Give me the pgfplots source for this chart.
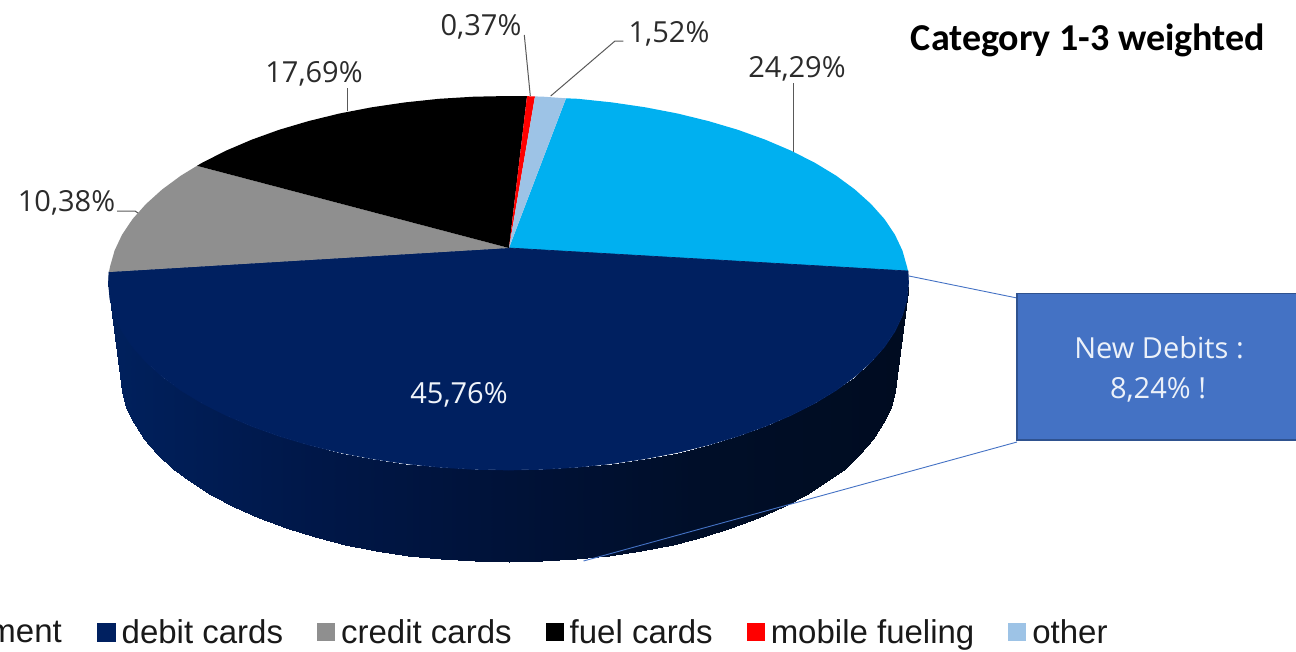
\documentclass[border=0pt]{standalone}
\usepackage{fontspec}
\setmainfont{Open Sans}
\newfontfamily\legendfont{Liberation Sans}
\newfontfamily\titlefont{Carlito}
\usepackage{pgfplots}
\pgfplotsset{compat=1.18}

\definecolor{debit}{HTML}{002060}
\definecolor{credit}{HTML}{8F8F8F}
\definecolor{fuel}{HTML}{000000}
\definecolor{mobile}{HTML}{FF0000}
\definecolor{other}{HTML}{9DC3E6}
\definecolor{payment}{HTML}{00B0F0}
\definecolor{boxblue}{HTML}{4472C4}
\definecolor{boxedge}{HTML}{2F528F}
\definecolor{leader}{HTML}{595959}
\definecolor{labeltext}{HTML}{2B2B2B}

\begin{document}
\begin{tikzpicture}
\useasboundingbox (0,0) rectangle (1296pt,651pt);
\clip (0,0) rectangle (1296pt,651pt);
\begin{axis}[
  scale only axis,
  width=1296pt, height=651pt,
  xmin=0, xmax=1296, ymin=0, ymax=651,
  y dir=reverse,
  hide axis,
  clip=false,
  colormap={side}{rgb255=(0,32,92) rgb255=(0,23,72) rgb255=(0,18,56) rgb255=(0,14,40) rgb255=(0,12,33)},
  point meta min=120, point meta max=900,
  legend columns=5,
  legend cell align=left,
  legend style={
    draw=none, fill=none, inner sep=0pt, outer sep=0pt,
    at={(axis cs:97,632)}, anchor=west,
    font=\fontsize{33}{33}\selectfont\legendfont\color{black!90},
    /tikz/every even column/.append style={column sep=34pt},
    /tikz/every odd column/.append style={column sep=6pt},
    nodes={inner sep=0pt},
  },
  legend image code/.code={\fill[#1] (0pt,-9pt) rectangle (18pt,9pt);},
]

% side of the pie
\addplot[surf, shader=interp, mesh/rows=2, point meta=x, forget plot] table[row sep=crcr] {
108.5 283\\110 299.3\\114.6 315.5\\122.1 331.4\\132.6 347\\146 362\\162.1 376.5\\180.8 390.3\\202.1 403.2\\225.7 415.2\\251.4 426.2\\279.1 436.2\\308.5 444.9\\339.5 452.5\\371.7 458.7\\405 463.6\\439.1 467.2\\473.6 469.3\\508.5 470\\543.4 469.3\\577.9 467.2\\612 463.6\\645.3 458.7\\677.5 452.5\\708.5 444.9\\737.9 436.2\\765.6 426.2\\791.3 415.2\\814.9 403.2\\836.2 390.3\\854.9 376.5\\871 362\\884.4 347\\894.9 331.4\\902.4 315.5\\907 299.3\\908.5 283\\
120.5 375\\122 391.3\\126.4 407.5\\133.7 423.4\\143.9 439\\156.9 454\\172.5 468.5\\190.7 482.3\\211.3 495.2\\234.1 507.2\\259.1 518.2\\285.9 528.2\\314.5 536.9\\344.5 544.5\\375.8 550.7\\408.1 555.6\\441.1 559.2\\474.7 561.3\\508.5 562\\542.3 561.3\\575.9 559.2\\608.9 555.6\\641.2 550.7\\672.5 544.5\\702.5 536.9\\731.1 528.2\\757.9 518.2\\782.9 507.2\\805.7 495.2\\826.3 482.3\\844.5 468.5\\860.1 454\\873.1 439\\883.3 423.4\\890.6 407.5\\895 391.3\\896.5 375\\
};

% top of the pie, one outline per slice
\addplot[fill=payment, draw=none, forget plot] coordinates {
(509,248) (908,271) (907,266.7) (902.4,250.5) (894.9,234.6) (884.4,219) (871,204) (854.9,189.5) (836.2,175.7) (814.9,162.8) (791.3,150.8) (765.6,139.8) (737.9,129.8) (708.5,121.1) (677.5,113.5) (645.3,107.3) (612,102.4) (577.9,98.8) (566,98.3)
} -- cycle;

\addplot[fill=debit, draw=debit, line width=0.7pt] coordinates {
(509,248) (109,272) (108.5,283) (110,299.3) (114.6,315.5) (122.1,331.4) (132.6,347) (146,362) (162.1,376.5) (180.8,390.3) (202.1,403.2) (225.7,415.2) (251.4,426.2) (279.1,436.2) (308.5,444.9) (339.5,452.5) (371.7,458.7) (405,463.6) (439.1,467.2) (473.6,469.3) (508.5,470) (543.4,469.3) (577.9,467.2) (612,463.6) (645.3,458.7) (677.5,452.5) (708.5,444.9) (737.9,436.2) (765.6,426.2) (791.3,415.2) (814.9,403.2) (836.2,390.3) (854.9,376.5) (871,362) (884.4,347) (894.9,331.4) (902.4,315.5) (907,299.3) (908.5,283) (908,271)
} -- cycle;
\addlegendentry{debit cards}

\addplot[fill=credit, draw=none] coordinates {
(509,248) (197,165.8) (180.8,175.7) (162.1,189.5) (146,204) (132.6,219) (122.1,234.6) (114.6,250.5) (110,266.7) (109,272)
} -- cycle;
\addlegendentry{credit cards}

\addplot[fill=fuel, draw=none] coordinates {
(509,248) (527,96.2) (508.5,96) (473.6,96.7) (439.1,98.8) (405,102.4) (371.7,107.3) (339.5,113.5) (308.5,121.1) (279.1,129.8) (251.4,139.8) (225.7,150.8) (202.1,162.8) (197,165.8)
} -- cycle;
\addlegendentry{fuel cards}

\addplot[fill=mobile, draw=none] coordinates {
(509,248) (535,96.4) (527,96.2)
} -- cycle;
\addlegendentry{mobile fueling}

\addplot[fill=other, draw=none] coordinates {
(509,248) (566,98.3) (543.4,96.7) (535,96.4)
} -- cycle;
\addlegendentry{other}

% leader lines
\addplot[leader, line width=1pt, forget plot] coordinates {(524.3,35) (530.3,96)};
\addplot[leader, line width=1pt, forget plot] coordinates {(623.3,41) (615,41) (550.7,96)};
\addplot[leader, line width=1pt, forget plot] coordinates {(793,83) (793,152)};
\addplot[leader, line width=1pt, forget plot] coordinates {(347,88) (347,111)};
\addplot[leader, line width=1pt, forget plot] coordinates {(117,211) (135,211) (138,213)};

% callout
\addplot[boxblue, line width=0.9pt, forget plot] coordinates {(909,276) (1017,298)};
\addplot[boxblue, line width=0.9pt, forget plot] coordinates {(583.5,561) (1017,442)};
\addplot[fill=boxblue, draw=boxedge, line width=1.4pt, forget plot] coordinates {(1017,293.5) (1310,293.5) (1310,440) (1017,440)} -- cycle;

% labels
\node[font=\fontsize{29}{29}\selectfont, text=labeltext, inner sep=0pt] at (axis cs:66.5,202.5) {10,38\%};
\node[font=\fontsize{29}{29}\selectfont, text=labeltext, inner sep=0pt] at (axis cs:314,73.5) {17,69\%};
\node[font=\fontsize{29}{29}\selectfont, text=labeltext, inner sep=0pt] at (axis cs:481,26.5) {0,37\%};
\node[font=\fontsize{29}{29}\selectfont, text=labeltext, inner sep=0pt] at (axis cs:669,33.5) {1,52\%};
\node[font=\fontsize{29}{29}\selectfont, text=labeltext, inner sep=0pt] at (axis cs:797,68.5) {24,29\%};
\node[font=\fontsize{29}{29}\selectfont, text=white!92!boxblue, inner sep=0pt] at (axis cs:459,394.5) {45,76\%};
\node[font=\fontsize{29}{29}\selectfont, text=white!90!boxblue, inner sep=0pt] at (axis cs:1159,348) {New Debits :};
\node[font=\fontsize{29}{29}\selectfont, text=white!90!boxblue, inner sep=0pt] at (axis cs:1158,389.5) {8,24\% !};
\node[font=\fontsize{38}{38}\selectfont\titlefont\bfseries, text=black, inner sep=0pt] at (axis cs:1088,40) {Category 1-3 weighted};
\node[font=\fontsize{33}{33}\selectfont\legendfont, text=black!90, inner sep=0pt, anchor=base east] at (axis cs:62,642) {ment};
\end{axis}
\end{tikzpicture}
\end{document}
